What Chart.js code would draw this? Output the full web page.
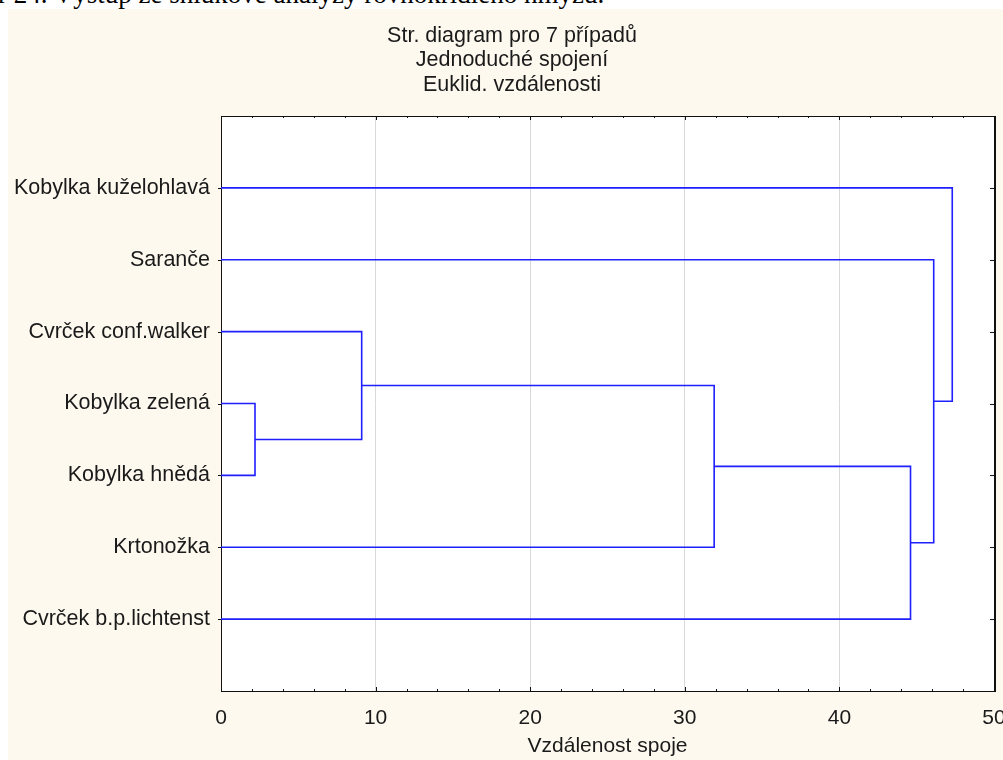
<!DOCTYPE html>
<html>
<head>
<meta charset="utf-8">
<script src="https://cdn.jsdelivr.net/npm/chart.js@4/dist/chart.umd.min.js"></script>
<style>
  html, body { margin: 0; padding: 0; width: 1003px; height: 760px; overflow: hidden; background: #fff; }
  .caption {
    position: absolute; left: -35px; top: -19px; white-space: nowrap; line-height: 26px;
    font-family: "Liberation Serif", "DejaVu Serif", serif; font-size: 27px; color: #000;
  }
  .panel { position: absolute; left: 8px; top: 9px; width: 1100px; height: 800px; background: #fef9ef; }
  canvas { position: absolute; left: 0; top: 0; }
</style>
</head>
<body>
<div class="caption">Obr 24. Výstup ze shlukové analýzy rovnokřídlého hmyzu.</div>
<div class="panel"></div>
<canvas id="tree" width="1024" height="760"></canvas>
<script>
// leaves, top to bottom
const caseLabels = [
  'Kobylka kuželohlavá',
  'Saranče',
  'Cvrček conf.walker',
  'Kobylka zelená',
  'Kobylka hnědá',
  'Krtonožka',
  'Cvrček b.p.lichtenst'
];
// merge steps: leaves are 0..6, each merge creates node 7, 8, ...
const mergeLeft = [3, 2, 8, 9, 1, 0];
const mergeRight = [4, 7, 5, 6, 10, 11];
const mergeHeight = [2.2, 9.1, 31.9, 44.6, 46.1, 47.3];
const xTicks = [0, 10, 20, 30, 40, 50];
const titleLines = ['Str. diagram pro 7 případů', 'Jednoduché spojení', 'Euklid. vzdálenosti'];

const FONT = '"Liberation Sans", Arial, sans-serif';
const TEXT = '#1a1a1a';
const BLUE = '#1f1fff';

// build the U-shaped links from the merge table
const nodeY = caseLabels.map((_, i) => i + 1);
const nodeH = caseLabels.map(() => 0);
const datasets = [];
mergeLeft.forEach((a, k) => {
  const b = mergeRight[k];
  const h = mergeHeight[k];
  datasets.push({
    data: [
      { x: nodeH[a], y: nodeY[a] },
      { x: h, y: nodeY[a] },
      { x: h, y: nodeY[b] },
      { x: nodeH[b], y: nodeY[b] }
    ],
    borderColor: BLUE,
    borderWidth: 1.6,
    pointRadius: 0,
    fill: false,
    tension: 0
  });
  nodeY.push((nodeY[a] + nodeY[b]) / 2);
  nodeH.push(h);
});

// white plot area, 3-line title, frame and small tick marks
const framePlugin = {
  id: 'frame',
  beforeDraw(chart) {
    const { ctx, chartArea: a } = chart;
    ctx.save();
    ctx.fillStyle = '#ffffff';
    ctx.fillRect(a.left, a.top, a.right - a.left, a.bottom - a.top);
    ctx.fillStyle = TEXT;
    ctx.font = '21.5px ' + FONT;
    ctx.textAlign = 'center';
    ctx.textBaseline = 'middle';
    titleLines.forEach((t, i) => ctx.fillText(t, 512, 36 + i * 24.5));
    ctx.restore();
  },
  afterDraw(chart) {
    const { ctx, chartArea: a, scales } = chart;
    ctx.save();
    ctx.strokeStyle = '#111';
    ctx.lineWidth = 1;
    ctx.beginPath();
    ctx.moveTo(a.left + 0.5, a.top + 0.5);
    ctx.lineTo(a.right + 0.5, a.top + 0.5);
    ctx.lineTo(a.right + 0.5, a.bottom + 0.5);
    ctx.stroke();
    ctx.lineWidth = 2;
    ctx.beginPath();
    ctx.moveTo(a.right + 1, a.top);
    ctx.lineTo(a.right + 1, a.bottom + 1);
    ctx.stroke();
    ctx.lineWidth = 1;
    ctx.beginPath();
    caseLabels.forEach((_, i) => {
      const y = Math.round(scales.y.getPixelForValue(i + 1)) + 0.5;
      ctx.moveTo(a.left - 3, y); ctx.lineTo(a.left, y);
      ctx.moveTo(a.right - 4, y); ctx.lineTo(a.right, y);
    });
    for (let v = 2; v < 50; v += 2) {
      const x = Math.round(scales.x.getPixelForValue(v)) + 0.5;
      const len = v % 10 === 0 ? 4 : 2;
      ctx.moveTo(x, a.top); ctx.lineTo(x, a.top + len);
      ctx.moveTo(x, a.bottom); ctx.lineTo(x, a.bottom - len);
    }
    ctx.stroke();
    ctx.restore();
  }
};

new Chart(document.getElementById('tree'), {
  type: 'line',
  data: { datasets },
  options: {
    responsive: false,
    animation: false,
    events: [],
    layout: { padding: { left: 0, top: 116, right: 30, bottom: 0 } },
    plugins: {
      legend: { display: false },
      tooltip: { enabled: false },
      title: { display: false }
    },
    scales: {
      x: {
        type: 'linear',
        min: 0,
        max: 50,
        afterBuildTicks: (scale) => { scale.ticks = xTicks.map(v => ({ value: v })); },
        ticks: { color: TEXT, font: { family: FONT, size: 21 }, padding: 15, maxRotation: 0 },
        grid: {
          drawTicks: false,
          color: (c) => (c.tick && c.tick.value > 0 && c.tick.value < 50) ? '#d9d9d9' : 'rgba(0,0,0,0)',
          lineWidth: 1
        },
        border: { display: true, color: '#111', width: 1 },
        title: {
          display: true,
          text: 'Vzdálenost spoje',
          color: TEXT,
          font: { family: FONT, size: 21 },
          padding: { top: 0, bottom: 1 }
        },
        afterFit: (scale) => { scale.height = 69; scale.paddingLeft = 0; scale.paddingRight = 0; }
      },
      y: {
        type: 'linear',
        reverse: true,
        min: 0,
        max: 8,
        ticks: {
          stepSize: 1,
          color: TEXT,
          font: { family: FONT, size: 21.5 },
          padding: 11,
          callback: (v) => caseLabels[v - 1] || ''
        },
        grid: { display: true, drawOnChartArea: false, drawTicks: false },
        border: { display: true, color: '#111', width: 1 },
        afterFit: (scale) => { scale.width = 221; scale.paddingTop = 0; scale.paddingBottom = 0; }
      }
    }
  },
  plugins: [framePlugin]
});
</script>
</body>
</html>
